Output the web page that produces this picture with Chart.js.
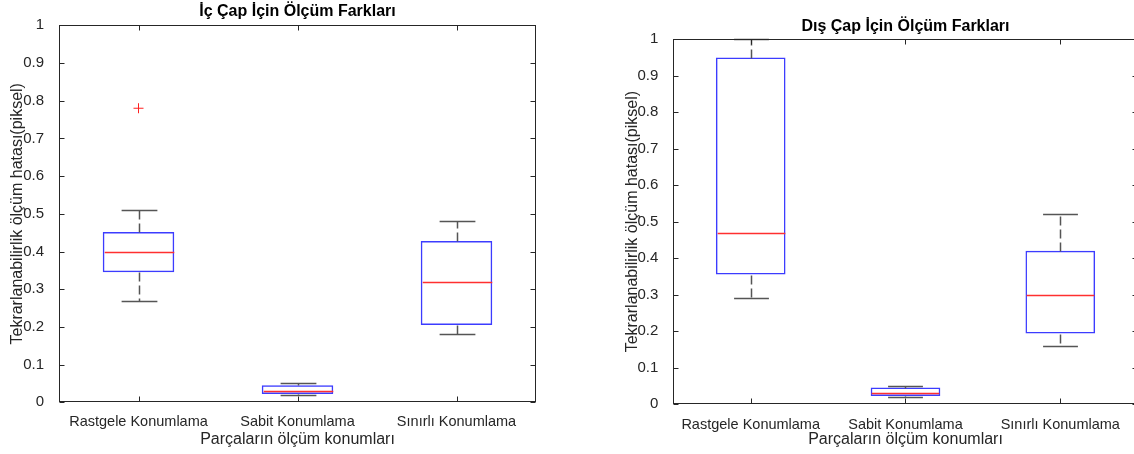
<!DOCTYPE html>
<html>
<head>
<meta charset="utf-8">
<script src="https://cdn.jsdelivr.net/npm/chart.js@4"></script>
<style>
  html, body { margin: 0; padding: 0; background: #fff; overflow: hidden; }
  canvas { position: absolute; top: 0; }
</style>
</head>
<body>
<canvas id="icChart" width="560" height="454" style="left:0"></canvas>
<canvas id="disChart" width="580" height="454" style="left:580px"></canvas>
<script>
// Categories and y tick labels
const categories = ["Rastgele Konumlama", "Sabit Konumlama", "Sınırlı Konumlama"];
const yTickValues = [0, 0.1, 0.2, 0.3, 0.4, 0.5, 0.6, 0.7, 0.8, 0.9, 1];
const yTickLabels = ["0", "0.1", "0.2", "0.3", "0.4", "0.5", "0.6", "0.7", "0.8", "0.9", "1"];

// İç çap (left)
const icMin = [0.27, 0.02, 0.18];
const icQ1 = [0.345, 0.022, 0.205];
const icMedian = [0.40, 0.03, 0.32];
const icQ3 = [0.452, 0.045, 0.428];
const icMax = [0.51, 0.05, 0.48];
const icOutliers = [[0.78], [], []];

// Dış çap (right)
const disMin = [0.29, 0.02, 0.16];
const disQ1 = [0.355, 0.022, 0.193];
const disMedian = [0.47, 0.03, 0.30];
const disQ3 = [0.95, 0.045, 0.42];
const disMax = [1.0, 0.05, 0.52];
const disOutliers = [[], [], []];

Chart.defaults.font.family = '"Liberation Sans", Arial, Helvetica, sans-serif';
Chart.defaults.color = "#262626";

// whiskers, caps, medians, frame and inward tick marks (MATLAB look)
const boxplotPlugin = {
  id: "boxplot",
  afterDatasetsDraw(chart, args, opts) {
    const { ctx, scales: { y } } = chart;
    const bars = chart.getDatasetMeta(0).data;
    const py = v => Math.round(y.getPixelForValue(v)) + 0.5;
    const line = (x1, y1, x2, y2) => {
      ctx.beginPath(); ctx.moveTo(x1, y1); ctx.lineTo(x2, y2); ctx.stroke();
    };
    ctx.save();
    bars.forEach((bar, i) => {
      const cx = Math.round(bar.x) + 0.5;
      const half = bar.width / 2;
      ctx.strokeStyle = "#555";
      ctx.lineWidth = 1.5;
      ctx.setLineDash([9, 4]);
      line(cx, py(opts.q3[i]), cx, py(opts.max[i]));
      line(cx, py(opts.q1[i]), cx, py(opts.min[i]));
      ctx.setLineDash([]);
      line(cx - half / 2, py(opts.max[i]), cx + half / 2, py(opts.max[i]));
      line(cx - half / 2, py(opts.min[i]), cx + half / 2, py(opts.min[i]));
      ctx.strokeStyle = "#ff3030";
      line(cx - half + 1, py(opts.median[i]), cx + half - 1, py(opts.median[i]));
    });
    ctx.restore();
  },
  afterDraw(chart) {
    const { ctx, chartArea: a, scales: { x, y } } = chart;
    const l = Math.round(a.left) + 0.5, r = Math.round(a.right) - 0.5;
    const t = Math.round(a.top) + 0.5, b = Math.round(a.bottom) - 0.5;
    ctx.save();
    ctx.strokeStyle = "#262626";
    ctx.lineWidth = 1;
    ctx.strokeRect(l, t, r - l, b - t);
    ctx.beginPath();
    y.ticks.forEach(tk => {
      const yy = Math.round(y.getPixelForValue(tk.value)) + 0.5;
      ctx.moveTo(l, yy); ctx.lineTo(l + 5, yy);
      ctx.moveTo(r, yy); ctx.lineTo(r - 5, yy);
    });
    x.ticks.forEach((tk, i) => {
      const xx = Math.round(x.getPixelForTick(i)) + 0.5;
      ctx.moveTo(xx, b); ctx.lineTo(xx, b - 5);
      ctx.moveTo(xx, t); ctx.lineTo(xx, t + 5);
    });
    ctx.stroke();
    ctx.restore();
  }
};

function makeBoxChart(id, title, s, lay) {
  const outlierPoints = [];
  s.outliers.forEach((list, i) => list.forEach(v => outlierPoints.push({ x: categories[i], y: v })));
  return new Chart(document.getElementById(id), {
    type: "bar",
    data: {
      labels: categories,
      datasets: [{
        data: s.q1.map((v, i) => [v, s.q3[i]]),
        backgroundColor: "rgba(0,0,0,0)",
        borderColor: "#3c3cff",
        borderWidth: 1.5,
        borderSkipped: false,
        categoryPercentage: 1,
        barPercentage: 0.45
      }, {
        type: "scatter",
        data: outlierPoints,
        pointStyle: "cross",
        radius: 5,
        borderColor: "#ff2020",
        borderWidth: 1
      }]
    },
    options: {
      responsive: false,
      animation: false,
      events: [],
      layout: { padding: { left: lay.padLeft, right: lay.padRight, top: 0, bottom: 0 } },
      plugins: {
        legend: { display: false },
        tooltip: { enabled: false },
        title: {
          display: true,
          text: title,
          color: "#000",
          fullSize: false,
          font: { size: 16, weight: "bold" },
          padding: { top: lay.titleTop, bottom: lay.titleBottom }
        },
        boxplot: s
      },
      scales: {
        x: {
          type: "category",
          offset: true,
          grid: { display: false },
          border: { display: false },
          ticks: { font: { size: 14.5 }, padding: lay.xTickPad, maxRotation: 0 },
          title: {
            display: true,
            text: "Parçaların ölçüm konumları",
            font: { size: 16 },
            padding: { top: 0, bottom: lay.xTitleBottom }
          },
          afterFit: scale => { scale.height = lay.xHeight; }
        },
        y: {
          min: 0,
          max: 1,
          grid: { display: false },
          border: { display: false },
          afterBuildTicks: scale => { scale.ticks = yTickValues.map(v => ({ value: v })); },
          ticks: {
            font: { size: 15 },
            padding: 7,
            callback: (v, i) => yTickLabels[i]
          },
          title: {
            display: true,
            text: "Tekrarlanabilirlik ölçüm hatası(piksel)",
            font: { size: 16 },
            padding: { top: 0, bottom: 0 }
          },
          afterFit: scale => { scale.width = lay.yWidth; }
        }
      }
    },
    plugins: [boxplotPlugin]
  });
}

const icChart = makeBoxChart("icChart", "İç Çap İçin Ölçüm Farkları",
  { min: icMin, q1: icQ1, median: icMedian, q3: icQ3, max: icMax, outliers: icOutliers },
  { padLeft: 8, padRight: 24, yWidth: 51, xHeight: 51.7, titleTop: 2, titleBottom: 4.1,
    xTickPad: 3, xTitleBottom: 5 });

const disChart = makeBoxChart("disChart", "Dış Çap İçin Ölçüm Farkları",
  { min: disMin, q1: disQ1, median: disMedian, q3: disQ3, max: disMax, outliers: disOutliers },
  { padLeft: 43.4, padRight: 22.3, yWidth: 49.9, xHeight: 50, titleTop: 17.4, titleBottom: 2.7,
    xTickPad: 4.5, xTitleBottom: 4.5 });
</script>
</body>
</html>
